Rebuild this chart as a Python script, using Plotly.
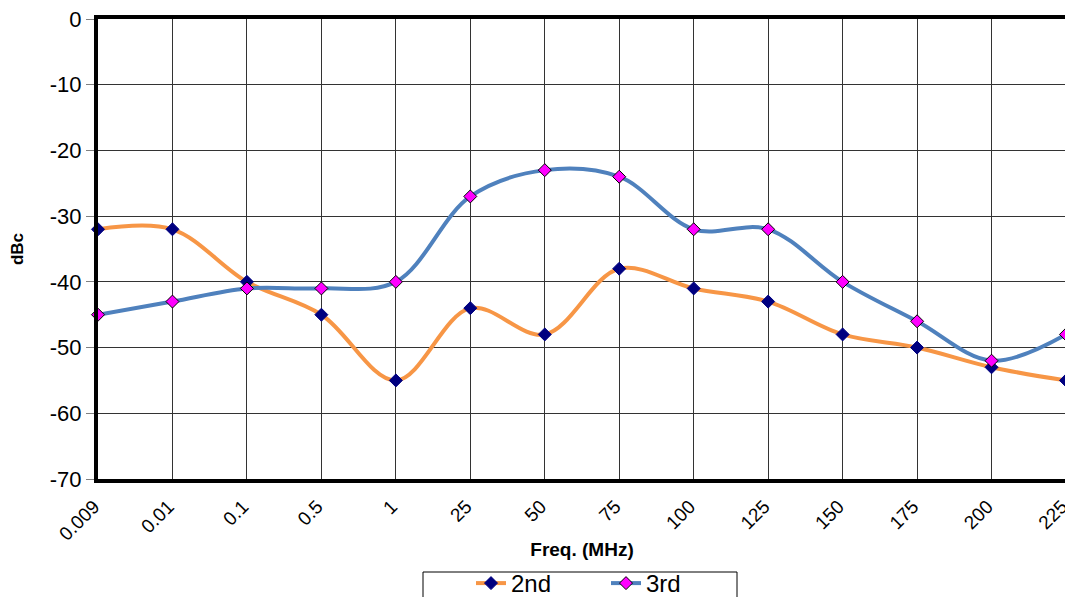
import plotly.graph_objects as go

freq = ["0.009", "0.01", "0.1", "0.5", "1", "25", "50", "75", "100", "125", "150", "175", "200", "225"]
second = [-32, -32, -40, -45, -55, -44, -48, -38, -41, -43, -48, -50, -53, -55]
third = [-45, -43, -41, -41, -40, -27, -23, -24, -32, -32, -40, -46, -52, -48]
y_ticks = [0, -10, -20, -30, -40, -50, -60, -70]
y_tick_text = ["0", "-10", "-20", "-30", "-40", "-50", "-60", "-70"]

# page body has an 8px margin: figure is sized to fit the 1073x597 window
W, H = 1065, 589
L, R, T, B = 90, 7, 11, 118
PW, PH = W - L - R, H - T - B
OX, OY = 8 + L, 8 + T          # page position of plot area's top-left
BOT = OY + PH                  # page y of plot bottom

fig = go.Figure()
fig.add_trace(go.Scatter(
    x=freq, y=second, name="2nd", mode="lines+markers",
    line=dict(color="#F79646", width=4, shape="spline", smoothing=1.0),
    marker=dict(symbol="diamond", size=10, color="#000080", line=dict(color="#000080", width=1)),
    cliponaxis=False,
))
fig.add_trace(go.Scatter(
    x=freq, y=third, name="3rd", mode="lines+markers",
    line=dict(color="#4F81BD", width=4, shape="spline", smoothing=1.0),
    marker=dict(symbol="diamond", size=10, color="#FF00FF", line=dict(color="#000000", width=1)),
    cliponaxis=False,
))

# legend frame (page px 423..737, top 572)
fig.add_shape(type="rect", xref="paper", yref="paper",
              x0=(423 - OX) / PW, x1=(737 - OX) / PW,
              y0=-(605 - BOT) / PH, y1=-(572 - BOT) / PH,
              line=dict(color="black", width=1), fillcolor="rgba(0,0,0,0)", layer="above")

fig.update_layout(
    width=W, height=H,
    margin=dict(l=L, r=R, t=T, b=B, autoexpand=False),
    paper_bgcolor="white", plot_bgcolor="white",
    font=dict(family="Liberation Sans, Arial, sans-serif", color="black"),
    showlegend=True,
    legend=dict(
        orientation="h", xref="paper", x=(471 - OX) / PW, xanchor="left",
        yref="paper", y=-(606 - BOT) / PH, yanchor="bottom",
        borderwidth=0, bgcolor="rgba(0,0,0,0)", font=dict(size=24),
        itemwidth=30, traceorder="normal", entrywidth=90, entrywidthmode="pixels",
    ),
    xaxis=dict(
        type="category", range=[0, 13], automargin=False,
        showgrid=True, gridcolor="#333333", gridwidth=1,
        showline=True, linecolor="black", linewidth=4, mirror=True,
        ticks="", tickangle=-45, tickfont=dict(size=19),
        ticklabelshift=-4, ticklabelstandoff=5,
        title=dict(text="<b>Freq. (MHz)</b>", font=dict(size=19), standoff=0),
        zeroline=False,
    ),
    yaxis=dict(
        range=[-70, 0], tickvals=y_ticks, ticktext=y_tick_text, automargin=False,
        showgrid=True, gridcolor="#333333", gridwidth=1,
        showline=True, linecolor="black", linewidth=4, mirror=True,
        ticks="outside", ticklen=8, tickcolor="#808080",
        tickfont=dict(size=22), ticklabeloverflow="allow",
        title=dict(text="<b>dBc</b>", font=dict(size=17), standoff=24),
        zeroline=False,
    ),
)

fig.write_html("out.html")
